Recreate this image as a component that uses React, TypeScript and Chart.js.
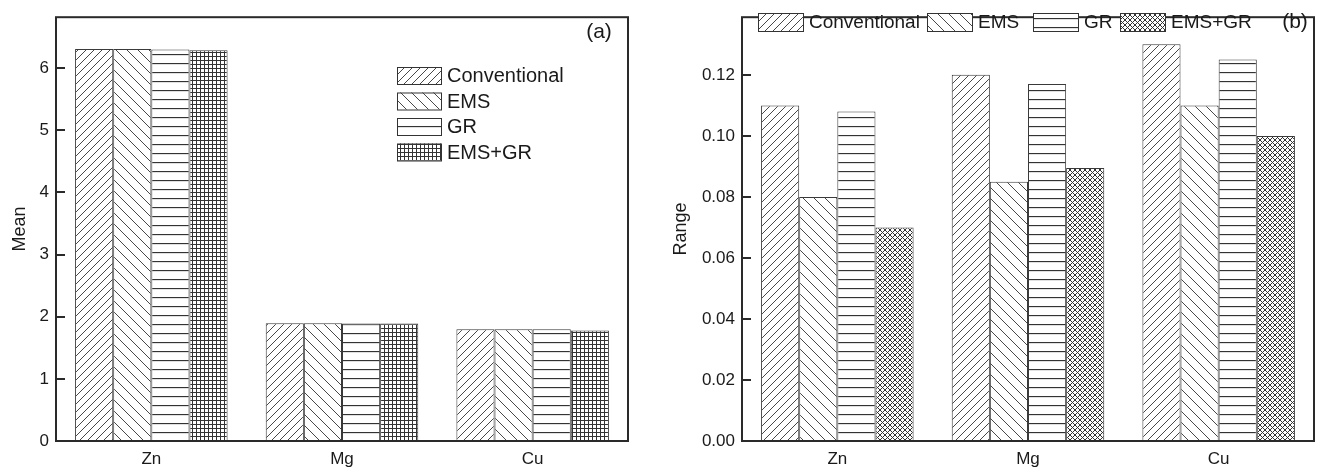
import React, { useEffect, useRef } from "react";
import { Chart, registerables } from "chart.js";

Chart.register(...registerables);

const categories = ["Zn", "Mg", "Cu"];
const seriesNames = ["Conventional", "EMS", "GR", "EMS+GR"];

const meanConventional = [6.31, 1.895, 1.8];
const meanEMS = [6.31, 1.895, 1.8];
const meanGR = [6.3, 1.89, 1.8];
const meanEMSGR = [6.29, 1.89, 1.78];

const rangeConventional = [0.11, 0.12, 0.13];
const rangeEMS = [0.08, 0.085, 0.11];
const rangeGR = [0.108, 0.117, 0.125];
const rangeEMSGR = [0.07, 0.0895, 0.1];

const meanTicks = [0, 1, 2, 3, 4, 5, 6];
const rangeTicks = [0, 0.02, 0.04, 0.06, 0.08, 0.1, 0.12];

const FONT = "'Liberation Sans', Arial, sans-serif";
const INK = "#2a2a2a";

type PatternKind = "fwd" | "back" | "horiz" | "grid" | "cross";

function makePattern(kind: PatternKind): CanvasPattern | string {
  const c = document.createElement("canvas");
  let w = 8;
  let h = 8;
  if (kind === "back") { w = 11; h = 11; }
  if (kind === "horiz") { w = 8; h = 9; }
  if (kind === "grid") { w = 4; h = 4; }
  if (kind === "cross") { w = 5; h = 5; }
  c.width = w;
  c.height = h;
  const ctx = c.getContext("2d");
  if (!ctx) return "#fff";
  ctx.fillStyle = "#ffffff";
  ctx.fillRect(0, 0, w, h);
  ctx.strokeStyle = "#333";
  ctx.lineWidth = 0.9;
  const line = (x1: number, y1: number, x2: number, y2: number) => {
    ctx.beginPath();
    ctx.moveTo(x1, y1);
    ctx.lineTo(x2, y2);
    ctx.stroke();
  };
  if (kind === "fwd") {
    line(-1, h + 1, w + 1, -1);
    line(-1, 1, 1, -1);
    line(w - 1, h + 1, w + 1, h - 1);
  } else if (kind === "back") {
    line(-1, -1, w + 1, h + 1);
    line(-1, h - 1, 1, h + 1);
    line(w - 1, -1, w + 1, 1);
  } else if (kind === "horiz") {
    ctx.lineWidth = 1.3;
    line(0, 0.5, w, 0.5);
  } else if (kind === "grid") {
    ctx.lineWidth = 1;
    line(0, 0.5, w, 0.5);
    line(0.5, 0, 0.5, h);
  } else if (kind === "cross") {
    ctx.lineWidth = 1;
    line(-1, -1, w + 1, h + 1);
    line(-1, h + 1, w + 1, -1);
  }
  return ctx.createPattern(c, "repeat") || "#fff";
}

type LegendItem = { x: number; y: number; w: number; h: number; label: string; fill: any };

const framePlugin = {
  id: "frameTicks",
  afterDraw(chart: any, _args: any, opts: any) {
    const { ctx, chartArea } = chart;
    const yScale = chart.scales.y;
    ctx.save();
    ctx.strokeStyle = INK;
    ctx.lineWidth = 2;
    yScale.ticks.forEach((t: any) => {
      const py = Math.round(yScale.getPixelForValue(t.value));
      ctx.beginPath();
      ctx.moveTo(chartArea.left, py);
      ctx.lineTo(chartArea.left + 9, py);
      ctx.stroke();
    });
    ctx.strokeRect(chartArea.left, chartArea.top, chartArea.right - chartArea.left, chartArea.bottom - chartArea.top);
    const items: LegendItem[] = opts.items || [];
    ctx.font = `${opts.legendSize || 20}px ${FONT}`;
    ctx.textBaseline = "middle";
    ctx.textAlign = "left";
    items.forEach((it) => {
      ctx.fillStyle = it.fill;
      ctx.fillRect(it.x, it.y, it.w, it.h);
      ctx.lineWidth = 1;
      ctx.strokeStyle = "#333";
      ctx.strokeRect(it.x + 0.5, it.y + 0.5, it.w, it.h);
      ctx.fillStyle = "#1a1a1a";
      ctx.fillText(it.label, it.x + it.w + 6, it.y + it.h / 2 + 1);
    });
    if (opts.tag) {
      ctx.font = `21px ${FONT}`;
      ctx.textAlign = "center";
      ctx.fillStyle = "#1a1a1a";
      ctx.fillText(opts.tag.text, opts.tag.x, opts.tag.y);
    }
    ctx.restore();
  },
};

function buildChart(
  canvas: HTMLCanvasElement,
  values: number[][],
  fills: any[],
  yMax: number,
  ticks: number[],
  yTitle: string,
  yWidth: number,
  padRight: number,
  padTop: number,
  titlePad: number,
  tickFormat: (v: number) => string,
  legendItems: LegendItem[],
  legendSize: number,
  tag: { text: string; x: number; y: number }
) {
  return new Chart(canvas, {
    type: "bar",
    data: {
      labels: categories,
      datasets: seriesNames.map((name, i) => ({
        label: name,
        data: values[i],
        backgroundColor: fills[i],
        borderColor: "#3a3a3a",
        borderWidth: 1,
        barPercentage: 1,
        categoryPercentage: 0.8,
      })),
    },
    options: {
      animation: false,
      responsive: false,
      devicePixelRatio: 1,
      layout: { padding: { left: 0, right: padRight, top: padTop, bottom: 0 } },
      plugins: {
        legend: { display: false },
        tooltip: { enabled: false },
        frameTicks: { items: legendItems, tag, legendSize },
      } as any,
      scales: {
        x: {
          grid: { display: false, drawTicks: false },
          border: { display: false },
          ticks: { font: { family: FONT, size: 17 }, color: "#1a1a1a", padding: 8 },
          afterFit: (s: any) => { s.height = 28; },
        },
        y: {
          min: 0,
          max: yMax,
          grid: { display: false, drawTicks: false },
          border: { display: false },
          ticks: {
            font: { family: FONT, size: 17 },
            color: "#1a1a1a",
            padding: 7,
            callback: (v: any) => tickFormat(Number(v)),
          },
          afterBuildTicks: (s: any) => { s.ticks = ticks.map((v) => ({ value: v })); },
          afterFit: (s: any) => { s.width = yWidth; },
          title: {
            display: true,
            text: yTitle,
            font: { family: FONT, size: 18 },
            color: "#1a1a1a",
            padding: { top: titlePad, bottom: 0 },
          },
        },
      },
    },
    plugins: [framePlugin],
  } as any);
}

export default function App() {
  const leftRef = useRef<HTMLCanvasElement>(null);
  const rightRef = useRef<HTMLCanvasElement>(null);

  useEffect(() => {
    if (!leftRef.current || !rightRef.current) return;
    const fillsA = [makePattern("fwd"), makePattern("back"), makePattern("horiz"), makePattern("grid")];
    const fillsB = [makePattern("fwd"), makePattern("back"), makePattern("horiz"), makePattern("cross")];
    const legendA: LegendItem[] = seriesNames.map((n, i) => ({
      x: 397, y: 67 + i * 25.5, w: 44, h: 17, label: n, fill: fillsA[i],
    }));
    const bxs = [758, 927, 1033, 1120].map((v) => v - 660);
    const legendB: LegendItem[] = seriesNames.map((n, i) => ({
      x: bxs[i], y: 13, w: 45, h: 18, label: n, fill: fillsB[i],
    }));
    const a = buildChart(
      leftRef.current,
      [meanConventional, meanEMS, meanGR, meanEMSGR],
      fillsA,
      6.82,
      meanTicks,
      "Mean",
      56,
      32,
      9,
      9,
      (v) => String(v),
      legendA,
      20,
      { text: "(a)", x: 599, y: 32 }
    );
    const b = buildChart(
      rightRef.current,
      [rangeConventional, rangeEMS, rangeGR, rangeEMSGR],
      fillsB,
      0.1389,
      rangeTicks,
      "Range",
      82,
      8,
      7,
      10,
      (v) => v.toFixed(2),
      legendB,
      19,
      { text: "(b)", x: 1295 - 660, y: 22 }
    );
    return () => {
      a.destroy();
      b.destroy();
    };
  }, []);

  return (
    <div
      style={{
        position: "fixed",
        left: 0,
        top: 0,
        width: 1322,
        height: 469,
        display: "flex",
        background: "#fff",
      }}
    >
      <canvas ref={leftRef} width={660} height={469} style={{ width: 660, height: 469, display: "block" }} />
      <canvas ref={rightRef} width={662} height={469} style={{ width: 662, height: 469, display: "block" }} />
    </div>
  );
}
